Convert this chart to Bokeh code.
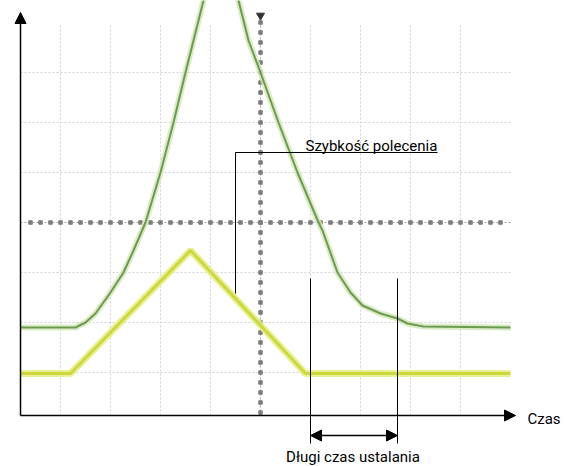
import numpy as np
from bokeh.plotting import figure
from bokeh.models import Range1d, Arrow, NormalHead, Label
from bokeh.embed import file_html
from bokeh.resources import INLINE

# ---- data (time in divisions, amplitude in divisions; 0 = screen centre) ----
green_t = [-4.8, -3.7, -3.5, -3.3, -3.0, -2.74, -2.54, -2.3, -2.0, -1.74, -1.5, -1.34, -1.14,
           -0.8, -0.44, -0.24, 0.0, 0.36, 0.74, 1.16, 1.24, 1.54, 1.8, 2.04, 2.4, 2.74, 2.94,
           3.26, 5.0]
green_v = [-2.1, -2.1, -2.0, -1.82, -1.4, -1.0, -0.56, 0.0, 1.0, 2.0, 3.0, 3.64, 4.44,
           5.44, 4.44, 3.64, 3.0, 2.0, 1.0, 0.0, -0.16, -1.0, -1.4, -1.66, -1.82, -1.92, -2.02,
           -2.08, -2.1]
yellow_t = [-4.8, -3.8, -1.4, 0.9, 5.0]
yellow_v = [-3.02, -3.02, -0.56, -3.02, -3.02]

grid_t = [-4, -3, -2, -1, 1, 2, 3, 4]
grid_v = [-3, -2, -1, 1, 2, 3]

label_command = "Szybkość polecenia"
label_settle = "Długi czas ustalania"
label_time = "Czas"

FONT = "Roboto"

W, H = 574, 466
p = figure(width=W, height=H, output_backend="svg", toolbar_location=None,
           x_range=Range1d(-5.2, -5.2 + W / 50), y_range=Range1d(4.44 - H / 50, 4.44),
           min_border=0, x_axis_location=None, y_axis_location=None,
           background_fill_color="white", border_fill_color="white")
p.outline_line_color = None
p.grid.visible = False

x_axis_v = -3.86
y_axis_t = -4.8

# grid
for t in grid_t:
    p.line([t, t], [x_axis_v, 3.94], line_color="#d2d2d9", line_width=1, line_dash="2 2")
for v in grid_v:
    p.line([y_axis_t, 5.0], [v, v], line_color="#d2d2d9", line_width=1, line_dash="2 2")
# centre lines with tick dots
p.line([0, 0], [x_axis_v, 4.1], line_color="#a0a0a0", line_width=1, line_dash="2 2")
p.line([y_axis_t, 5.0], [0, 0], line_color="#a0a0a0", line_width=1, line_dash="2 2")
tv = np.arange(-3.8, 4.05, 0.2)
tt = np.arange(-4.6, 5.0, 0.2)
p.scatter(np.zeros_like(tv), tv, marker="square", size=3.5, color="#7d7d7d")
p.scatter(tt, np.zeros_like(tt), marker="square", size=3.5, color="#7d7d7d")
p.scatter([0], [4.14], marker="inverted_triangle", size=8, color="#333333")

# traces
p.line(green_t, green_v, line_color="#d3e6b6", line_width=6, line_alpha=0.8)
p.line(green_t, green_v, line_color="#6a9c50", line_width=2)
p.line(yellow_t, yellow_v, line_color="#e6ee88", line_width=7, line_alpha=0.9)
p.line(yellow_t, yellow_v, line_color="#ccd83c", line_width=3)

# axes with arrows
p.add_layout(Arrow(x_start=y_axis_t, y_start=x_axis_v, x_end=y_axis_t, y_end=4.2,
                   line_color="black", line_width=1.5,
                   end=NormalHead(size=11, fill_color="black", line_color="black")))
p.add_layout(Arrow(x_start=y_axis_t, y_start=x_axis_v, x_end=5.1, y_end=x_axis_v,
                   line_color="black", line_width=1.5,
                   end=NormalHead(size=11, fill_color="black", line_color="black")))

# annotation: command speed
p.line([-0.5, 3.54], [1.4, 1.4], line_color="black", line_width=1)
p.line([-0.5, -0.5], [1.4, -1.42], line_color="black", line_width=1)
p.add_layout(Label(x=0.9, y=1.54, text=label_command, text_font=FONT, text_font_size="15px",
                   text_color="black", text_baseline="alphabetic", text_align="left"))

# annotation: settling time
p.line([1.0, 1.0], [-1.12, -4.42], line_color="black", line_width=1)
p.line([2.74, 2.74], [-1.12, -4.42], line_color="black", line_width=1)
p.add_layout(Arrow(x_start=1.0, y_start=-4.26, x_end=2.74, y_end=-4.26,
                   line_color="black", line_width=1.5,
                   start=NormalHead(size=11, fill_color="black", line_color="black"),
                   end=NormalHead(size=11, fill_color="black", line_color="black")))
p.add_layout(Label(x=1.85, y=-4.68, text=label_settle, text_font=FONT, text_font_size="15px",
                   text_color="black", text_baseline="alphabetic", text_align="center"))
p.add_layout(Label(x=5.34, y=-3.92, text=label_time, text_font=FONT, text_font_size="15px",
                   text_color="black", text_baseline="alphabetic", text_align="left"))

open("out.html", "w").write(file_html(p, INLINE))
